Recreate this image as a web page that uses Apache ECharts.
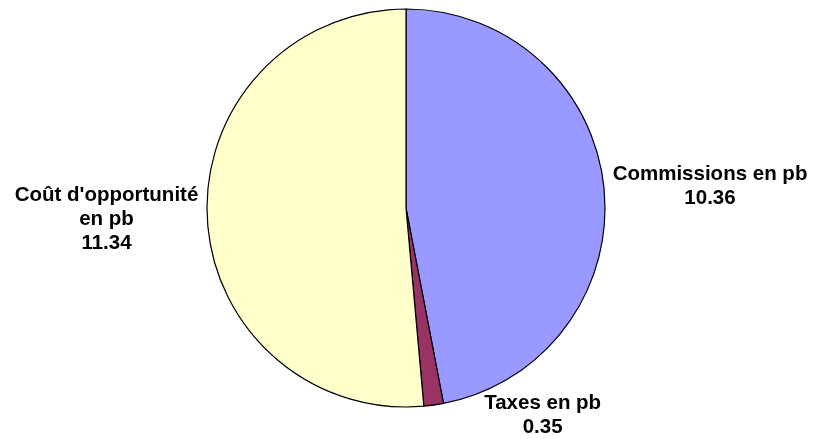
<!DOCTYPE html>
<html>
<head>
<meta charset="utf-8">
<script src="https://cdn.jsdelivr.net/npm/echarts@6/dist/echarts.min.js"></script>
<style>
  html, body { margin: 0; padding: 0; background: #fff; }
  #myChart { width: 816px; height: 439px; }
</style>
</head>
<body>
<div id="myChart"></div>
<script>
const categories = ["Commissions en pb", "Taxes en pb", "Coût d'opportunité\nen pb"];
const values = [10.36, 0.35, 11.34];
const colors = ["#9999FF", "#993366", "#FFFFCC"];

const W = 816, H = 439;
const CX = 406, CY = 208, R = 199;
const GAP = 9;

// angle du milieu de chaque part (depuis le haut, sens horaire)
const total = values.reduce((a, b) => a + b, 0);
const midAngles = [];
let acc = 0;
values.forEach(v => {
  midAngles.push((acc + v / 2) / total * 2 * Math.PI);
  acc += v;
});

const myChart = echarts.init(document.getElementById("myChart"));
myChart.setOption({
  animation: false,
  series: [
    {
      type: "pie",
      center: [CX, CY],
      radius: R,
      startAngle: 90,
      clockwise: true,
      avoidLabelOverlap: false,
      itemStyle: { borderColor: "#000", borderWidth: 1.2 },
      label: {
        show: true,
        position: "outside",
        formatter: "{b}\n{c}",
        color: "#000",
        fontFamily: "Arial, 'Liberation Sans', sans-serif",
        fontWeight: "bold",
        fontSize: 20.5,
        lineHeight: 24,
        align: "center",
      },
      labelLine: { show: false },
      labelLayout: function (p) {
        const a = midAngles[p.dataIndex];
        const sx = Math.sin(a), sy = -Math.cos(a);
        const w = p.labelRect.width, h = p.labelRect.height;
        let x = CX + sx * (R + GAP) + sx * w / 2;
        let y = CY + sy * (R + GAP) + sy * h / 2;
        // garder l'étiquette dans la zone, puis l'écarter du disque
        if (y + h / 2 > H) {
          y = H - h / 2;
          const top = y - h / 2 - CY;
          const edge = Math.sqrt(Math.max(0, R * R - top * top));
          if (sx > 0) x = Math.max(x, CX + edge + w / 2);
          else x = Math.min(x, CX - edge - w / 2);
        }
        return { x: x, y: y, align: "center", verticalAlign: "middle" };
      },
      data: categories.map((name, i) => ({
        name: name,
        value: values[i],
        itemStyle: { color: colors[i] },
      })),
    },
  ],
});
</script>
</body>
</html>
